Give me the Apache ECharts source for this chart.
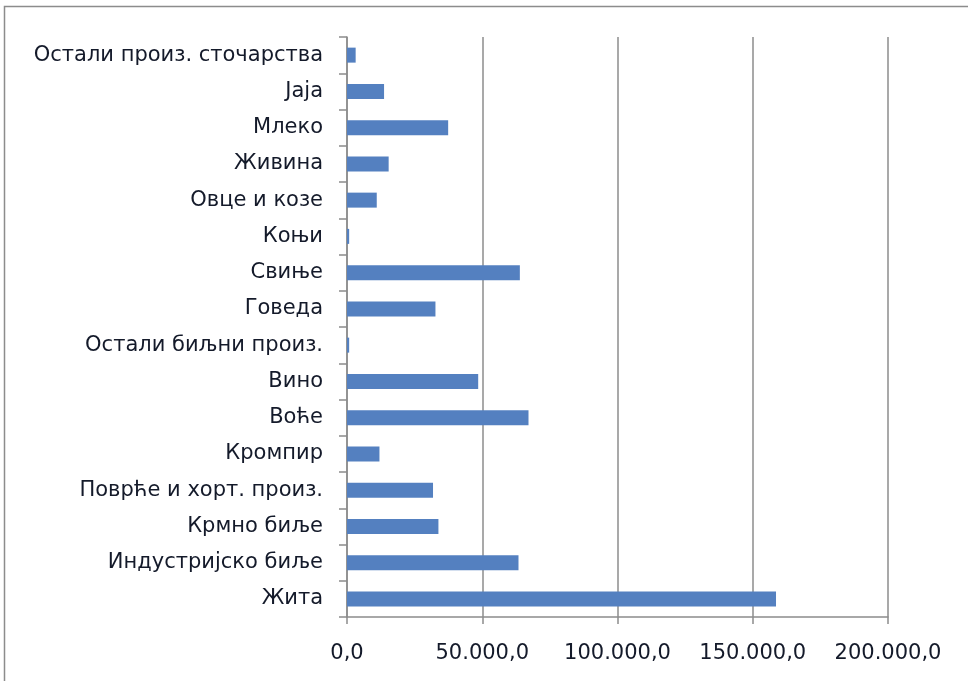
<!DOCTYPE html>
<html><head><meta charset="utf-8">
<script src="https://cdn.jsdelivr.net/npm/echarts@6/dist/echarts.min.js"></script>
<style>html,body{margin:0;padding:0;background:#fff}#c{width:968px;height:681px}</style>
</head><body><div id="c"></div>
<script>
const categories = ["Жита","Индустријско биље","Крмно биље","Поврће и хорт. произ.","Кромпир","Воће","Вино","Остали биљни произ.","Говеда","Свиње","Коњи","Овце и козе","Живина","Млеко","Јаја","Остали произ. сточарства"];
const values = [158600,63400,33800,31800,12000,67100,48500,800,32700,63900,800,11000,15400,37400,13700,3200];
const xTicks = [0,50000,100000,150000,200000];

function fmt(v){
  const s = Math.round(v).toString().replace(/\B(?=(\d{3})+(?!\d))/g,'.');
  return s + ',0';
}
const chart = echarts.init(document.getElementById('c'));
chart.setOption({
  backgroundColor:'#fff',
  animation:false,
  graphic:[{type:'rect',shape:{x:4.5,y:6.5,width:1000,height:700},style:{fill:'none',stroke:'#8c8c8c',lineWidth:1.5},silent:true}],
  grid:{left:347,top:37,width:541,height:580,containLabel:false},
  xAxis:{type:'value',min:xTicks[0],max:xTicks[xTicks.length-1],interval:50000,
    axisLine:{show:true,lineStyle:{color:'#8c8c8c',width:1.5}},
    axisTick:{show:true,length:7,lineStyle:{color:'#8c8c8c',width:1.5}},
    splitLine:{show:true,lineStyle:{color:'#8c8c8c',width:1.5}},
    axisLabel:{formatter:fmt,color:'#141a2a',fontSize:21,fontFamily:'DejaVu Sans',margin:26}},
  yAxis:{type:'category',data:categories,
    axisLine:{show:true,lineStyle:{color:'#8c8c8c',width:1.5}},
    axisTick:{show:true,length:8,lineStyle:{color:'#8c8c8c',width:1.5}},
    axisLabel:{color:'#141a2a',fontSize:21,fontFamily:'DejaVu Sans',margin:24}},
  series:[{type:'bar',data:values,barWidth:15,itemStyle:{color:'#5480c0'}}]
});
</script></body></html>
